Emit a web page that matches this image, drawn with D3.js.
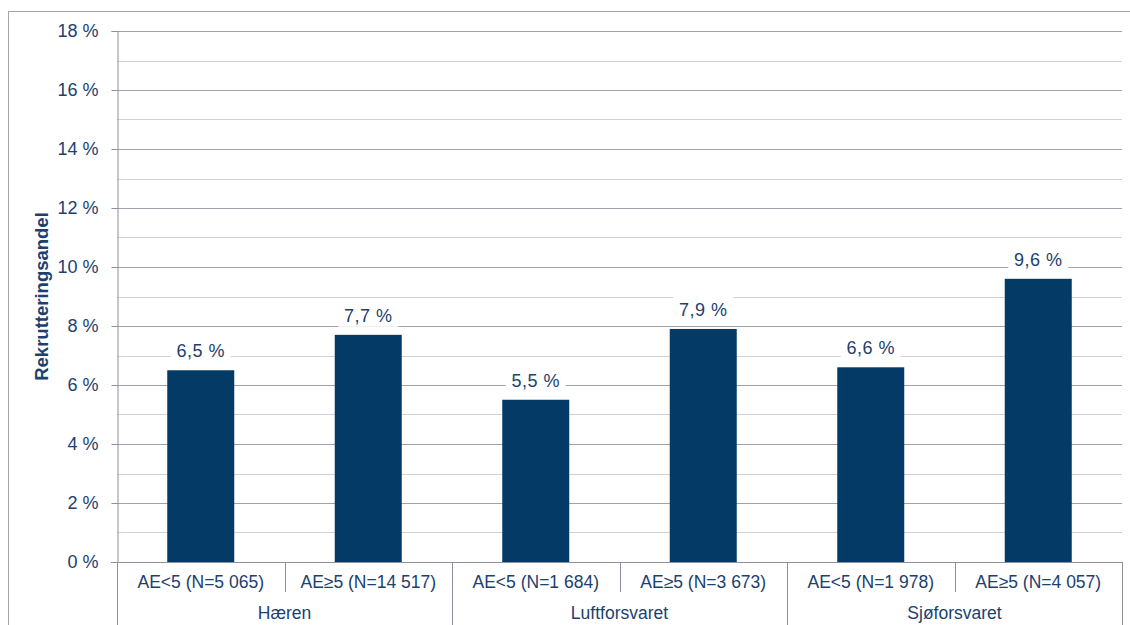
<!DOCTYPE html>
<html>
<head>
<meta charset="utf-8">
<script src="https://cdn.jsdelivr.net/npm/d3@7"></script>
<style>
  html, body { margin: 0; padding: 0; background: #fff; }
  svg { display: block; font-family: "Liberation Sans", Arial, sans-serif; }
</style>
</head>
<body>
<svg id="chart" width="1130" height="625"></svg>
<script>
// Recruitment share by branch and AE group
const groups = ["Hæren", "Luftforsvaret", "Sjøforsvaret"];
const categories = [
  "AE<5 (N=5 065)", "AE≥5 (N=14 517)",
  "AE<5 (N=1 684)", "AE≥5 (N=3 673)",
  "AE<5 (N=1 978)", "AE≥5 (N=4 057)"
];
const categoryGroup = ["Hæren", "Hæren", "Luftforsvaret", "Luftforsvaret", "Sjøforsvaret", "Sjøforsvaret"];
const values = [6.5, 7.7, 5.5, 7.9, 6.6, 9.6];
const yTicks = [0, 2, 4, 6, 8, 10, 12, 14, 16, 18];
const yGrid = d3.range(0, 19, 1);
const yTitle = "Rekrutteringsandel";

const textColor = "#1c416e";
const barColor = "#033a66";
const axisColor = "#8e909e";

const svg = d3.select("#chart");
const plotLeft = 117, plotRight = 1122, plotTop = 31, plotBottom = 562;

// outer frame
svg.append("rect")
  .attr("x", 8.5).attr("y", 11.5)
  .attr("width", 1140).attr("height", 640)
  .attr("fill", "none").attr("stroke", "#a3a4ac").attr("stroke-width", 1);

const y = d3.scaleLinear().domain([0, 18]).range([plotBottom, plotTop]);
const x = d3.scaleBand().domain(categories).range([plotLeft, plotRight]).paddingInner(0.6).paddingOuter(0.3);
const xCat = d3.scaleBand().domain(categories).range([plotLeft, plotRight]).padding(0);

// minor and major gridlines
svg.append("g").selectAll("line")
  .data(yGrid.filter(d => d > 0))
  .join("line")
  .attr("x1", plotLeft).attr("x2", plotRight)
  .attr("y1", d => Math.round(y(d)) + 0.5).attr("y2", d => Math.round(y(d)) + 0.5)
  .attr("stroke", d => d % 2 === 0 ? "#9fa1ae" : "#cfd0d8")
  .attr("stroke-width", 1);

// y axis
const yAxis = svg.append("g")
  .attr("transform", `translate(${plotLeft + 0.5},0)`)
  .call(d3.axisLeft(y).tickValues(yTicks).tickSize(6).tickPadding(13)
    .tickFormat(d => d + " %"));
yAxis.select(".domain").attr("stroke", axisColor);
yAxis.selectAll(".tick line").attr("stroke", axisColor);
yAxis.selectAll(".tick text")
  .attr("fill", textColor)
  .attr("font-size", "18px")
  .attr("font-family", "'Liberation Sans', Arial, sans-serif");
yAxis.selectAll(".tick").attr("transform", d => `translate(0,${Math.round(y(d)) + 0.5})`);

// y title
svg.append("text")
  .attr("transform", `translate(48,${(plotTop + plotBottom) / 2}) rotate(-90)`)
  .attr("text-anchor", "middle")
  .attr("fill", textColor)
  .attr("font-size", "18.5px")
  .attr("font-weight", "bold")
  .text(yTitle);

// bars
svg.append("g").selectAll("rect")
  .data(values)
  .join("rect")
  .attr("x", (d, i) => x(categories[i]))
  .attr("width", x.bandwidth())
  .attr("y", d => y(d))
  .attr("height", d => plotBottom - y(d))
  .attr("fill", barColor);

// value labels with white backing
const fmt = v => d3.format(".1f")(v).replace(".", ",") + " %";
const labels = svg.append("g").selectAll("g")
  .data(values)
  .join("g")
  .attr("transform", (d, i) => `translate(${x(categories[i]) + x.bandwidth() / 2},${y(d) - 13})`);
labels.append("rect")
  .attr("x", -30).attr("y", -19).attr("width", 60).attr("height", 24)
  .attr("fill", "#fff");
labels.append("text")
  .attr("text-anchor", "middle")
  .attr("fill", textColor)
  .attr("font-size", "18px")
  .attr("letter-spacing", "0.5px")
  .text(d => fmt(d));

// x axis baseline
svg.append("line")
  .attr("x1", plotLeft - 6).attr("x2", plotRight)
  .attr("y1", plotBottom + 0.5).attr("y2", plotBottom + 0.5)
  .attr("stroke", axisColor);

// category separators
const bounds = d3.range(categories.length + 1).map(i => i < categories.length ? xCat(categories[i]) : plotRight);
svg.append("g").selectAll("line")
  .data(bounds)
  .join("line")
  .attr("x1", d => Math.round(d) + 0.5).attr("x2", d => Math.round(d) + 0.5)
  .attr("y1", plotBottom)
  .attr("y2", (d, i) => (i % 2 === 0) ? 625 : 592)
  .attr("stroke", axisColor);

// category labels
svg.append("g").selectAll("text")
  .data(categories)
  .join("text")
  .attr("x", d => xCat(d) + xCat.bandwidth() / 2)
  .attr("y", 588)
  .attr("text-anchor", "middle")
  .attr("fill", textColor)
  .attr("font-size", "17.5px")
  .text(d => d);

// group labels
svg.append("g").selectAll("text")
  .data(groups)
  .join("text")
  .attr("x", g => {
    const idx = categories.map((c, i) => i).filter(i => categoryGroup[i] === g);
    const x0 = xCat(categories[idx[0]]);
    const x1 = xCat(categories[idx[idx.length - 1]]) + xCat.bandwidth();
    return (x0 + x1) / 2;
  })
  .attr("y", 619)
  .attr("text-anchor", "middle")
  .attr("fill", textColor)
  .attr("font-size", "17.5px")
  .text(g => g);
</script>
</body>
</html>
